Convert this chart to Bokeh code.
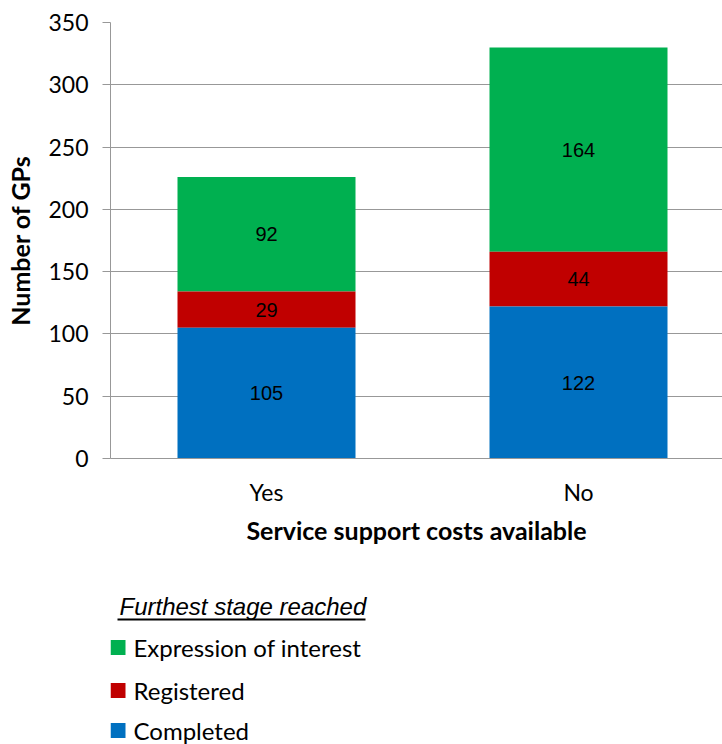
from bokeh.plotting import figure
from bokeh.models import FixedTicker, ColumnDataSource, Range1d
from bokeh.layouts import column
from bokeh.core.properties import value
from bokeh.embed import file_html
from bokeh.resources import INLINE

# ---- data ----
categories = ["Yes", "No"]
completed = [105, 122]
registered = [29, 44]
expression = [92, 164]
series_names = ["Expression of interest", "Registered", "Completed"]
series_colors = ["#00B050", "#C00000", "#0070C0"]
y_ticks = [0, 50, 100, 150, 200, 250, 300, 350]
legend_title = "Furthest stage reached"
x_title = "Service support costs available"
y_title = "Number of GPs"

FONT = "Lato"
GRID = "#989898"

xs = [i + 0.5 for i in range(len(categories))]
c_top = list(completed)
r_top = [c + r for c, r in zip(completed, registered)]
e_top = [t + e for t, e in zip(r_top, expression)]

src = ColumnDataSource(dict(
    x=xs,
    c_bot=[0] * len(xs), c_top=c_top, c_mid=[t / 2 for t in c_top], c_lab=[str(v) for v in completed],
    r_bot=c_top, r_top=r_top, r_mid=[(a + b) / 2 for a, b in zip(c_top, r_top)], r_lab=[str(v) for v in registered],
    e_bot=r_top, e_top=e_top, e_mid=[(a + b) / 2 for a, b in zip(r_top, e_top)], e_lab=[str(v) for v in expression],
))

p = figure(width=722, height=560, x_range=Range1d(0, 612 / 312), y_range=Range1d(0, 350),
           output_backend="svg", toolbar_location=None,
           min_border_left=110, min_border_right=0, min_border_top=22, min_border_bottom=102)
p.outline_line_color = None
p.xgrid.grid_line_color = None
p.ygrid.grid_line_color = GRID
p.ygrid.ticker = FixedTicker(ticks=y_ticks)

BW = 178 / 312
p.vbar(x="x", bottom="e_bot", top="e_top", width=BW, source=src, fill_color=series_colors[0], line_color=None)
p.vbar(x="x", bottom="r_bot", top="r_top", width=BW, source=src, fill_color=series_colors[1], line_color=None)
lab_kw = dict(text_font=value("Liberation Sans"), text_font_size="20px", text_color="black",
              text_align="center", text_baseline="middle")
p.text(x="x", y="e_mid", text="e_lab", source=src, **lab_kw)
p.text(x="x", y="r_mid", text="r_lab", source=src, **lab_kw)
p.vbar(x="x", bottom="c_bot", top="c_top", width=BW, source=src, fill_color=series_colors[2], line_color=None)
p.text(x="x", y="c_mid", text="c_lab", source=src, **lab_kw)

# y axis
ya = p.yaxis[0]
ya.ticker = FixedTicker(ticks=y_ticks)
ya.axis_line_color = GRID
ya.major_tick_line_color = GRID
ya.major_tick_out = 8
ya.major_tick_in = 0
ya.minor_tick_line_color = None
ya.major_label_standoff = 14
ya.major_label_text_font = FONT
ya.major_label_text_font_size = "23px"
ya.major_label_text_color = "black"
ya.axis_label = y_title
ya.axis_label_text_font = FONT
ya.axis_label_text_font_size = "25px"
ya.axis_label_text_font_style = "bold"
ya.axis_label_text_color = "black"
ya.axis_label_standoff = 10

# x axis
xa = p.xaxis[0]
xa.ticker = FixedTicker(ticks=xs)
xa.major_label_overrides = {x: c for x, c in zip(xs, categories)}
xa.axis_line_color = GRID
xa.major_tick_line_color = None
xa.minor_tick_line_color = None
xa.major_label_standoff = 13
xa.major_label_text_font = FONT
xa.major_label_text_font_size = "23px"
xa.major_label_text_color = "black"
xa.axis_label = x_title
xa.axis_label_text_font = FONT
xa.axis_label_text_font_size = "25px"
xa.axis_label_text_font_style = "bold"
xa.axis_label_text_color = "black"
xa.axis_label_standoff = 6

# ---- legend panel ----
q = figure(width=722, height=184, x_range=Range1d(110, 722), y_range=Range1d(184, 0),
           output_backend="svg", toolbar_location=None,
           x_axis_location=None, y_axis_location=None,
           min_border_left=110, min_border_right=0, min_border_top=0, min_border_bottom=0)
q.outline_line_color = None
q.xgrid.grid_line_color = None
q.ygrid.grid_line_color = None

q.text(x=[119], y=[46], text=[legend_title], text_font=value("Liberation Sans"),
       text_font_style="italic", text_font_size="24px", text_color="black",
       text_align="left", text_baseline="middle")
q.segment(x0=[117], y0=[59], x1=[365], y1=[59], line_color="black", line_width=2)

row_y = [87, 130, 170]
q.rect(x=[117.5] * 3, y=row_y, width=15, height=15, fill_color=series_colors, line_color=None)
q.text(x=[133] * 3, y=row_y, text=series_names, text_font=value(FONT), text_font_size="24px",
       text_color="black", text_align="left", text_baseline="middle")

layout = column(p, q, spacing=0)
open("out.html", "w").write(file_html(layout, INLINE))
